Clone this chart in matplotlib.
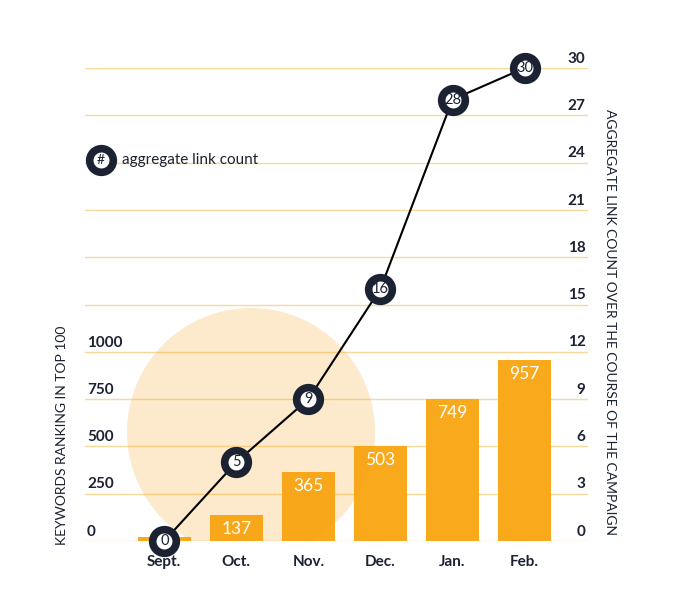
import matplotlib.pyplot as plt
from matplotlib.patches import Ellipse
from matplotlib.transforms import blended_transform_factory

plt.rcParams['font.family'] = ['Lato', 'DejaVu Sans']

# Data
months = ['Sept.', 'Oct.', 'Nov.', 'Dec.', 'Jan.', 'Feb.']
keywords = [20, 137, 365, 503, 749, 957]
link_count = [0, 5, 9, 16, 28, 30]
left_ticks = [0, 250, 500, 750, 1000]
right_ticks = [0, 3, 6, 9, 12, 15, 18, 21, 24, 27, 30]

dark = '#1b2232'
bar_color = '#f9a91c'
grid_color = '#f8d99c'

fig = plt.figure(figsize=(6.74, 6.03), dpi=100)
ax = fig.add_axes([85 / 674, 62 / 603, 503 / 674, 473 / 603])
ax2 = ax.twinx()

x = list(range(len(months)))

# bars on the keyword scale (1000 keywords lines up with 12 links)
ax.set_ylim(0, 2500)
ax.set_xlim(-1.1, 5.88)
for v in right_ticks:
    ax.axhline(v * 1000 / 12, color=grid_color, lw=1, zorder=0)
ax.bar(x, keywords, width=0.73, color=bar_color, zorder=2)
for i, v in enumerate(keywords):
    if v > 100:
        ax.text(i, v - 30, str(v), ha='center', va='top', color='white', fontsize=12.5, zorder=3)

# big pale circle over the bars
circ = Ellipse((251 / 674, 1 - 432 / 603), 248 / 674, 248 / 603, transform=fig.transFigure,
               facecolor='#f7a21b', alpha=0.22, edgecolor='none', zorder=2.5)
ax.add_artist(circ)

# link count line
ax2.set_ylim(0, 30)
ax2.plot(x, link_count, color='black', lw=1.5, zorder=3, clip_on=False)
ax2.plot(x, link_count, 'o', ms=17, mfc='white', mec=dark, mew=5.5, zorder=4, clip_on=False)
for i, v in enumerate(link_count):
    ax2.text(i, v, str(v), ha='center', va='center', color=dark, fontsize=10.5, zorder=5)

# ticks as text above the gridlines
for a in (ax, ax2):
    a.set_yticks([])
    for s in a.spines.values():
        s.set_visible(False)
ax.set_xticks(x)
ax.set_xticklabels(months, fontweight='bold', fontsize=11, color=dark)
ax.tick_params(axis='x', length=0, pad=10)

tr_right = blended_transform_factory(ax2.transAxes, ax2.transData)
for v in right_ticks:
    ax2.text(0.995, v + 0.15, str(v), transform=tr_right, ha='right', va='bottom',
             fontsize=11, fontweight='bold', color=dark)
tr_left = blended_transform_factory(ax.transAxes, ax.transData)
for v in left_ticks:
    ax.text(0.004, v + 12, str(v), transform=tr_left, ha='left', va='bottom',
            fontsize=11, fontweight='bold', color=dark)

# axis titles
fig.text(62 / 674, 1 - 435 / 603, 'KEYWORDS RANKING IN TOP 100', rotation=90,
         ha='center', va='center', fontsize=10, color=dark)
fig.text(610 / 674, 1 - 322 / 603, 'AGGREGATE LINK COUNT OVER THE COURSE OF THE CAMPAIGN',
         rotation=-90, ha='center', va='center', fontsize=10, color=dark)

# legend
fig.lines.append(plt.Line2D([101 / 674], [1 - 160 / 603], marker='o', ms=17, mfc='white',
                            mec=dark, mew=5.5, transform=fig.transFigure))
fig.text(101 / 674, 1 - 160 / 603, '#', ha='center', va='center', fontsize=10, color=dark)
fig.text(122 / 674, 1 - 160 / 603, 'aggregate link count', ha='left', va='center',
         fontsize=11, color=dark)

fig.savefig('out.png', dpi=100)
